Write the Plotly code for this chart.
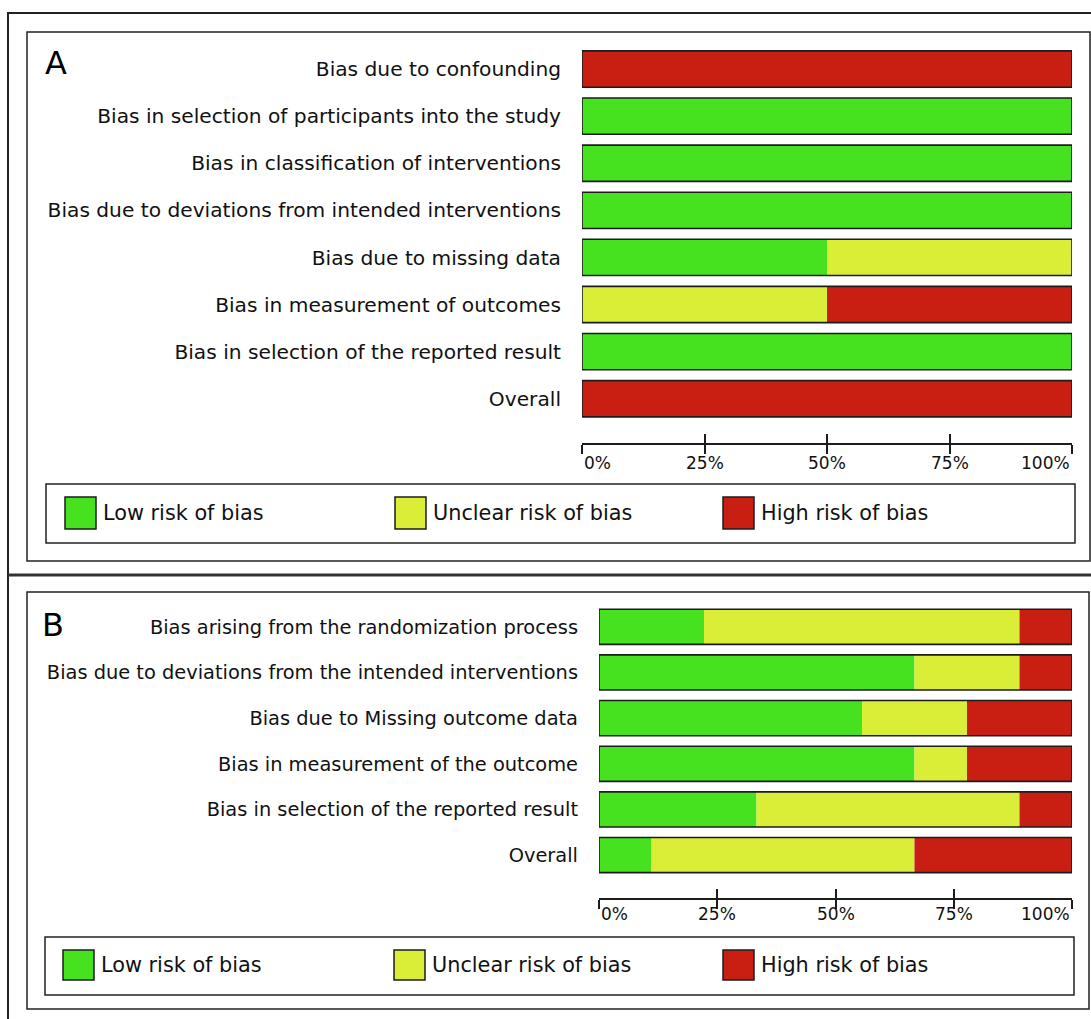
import plotly.graph_objects as go

# ---------------- data ----------------
A_labels = ["Bias due to confounding",
            "Bias in selection of participants into the study",
            "Bias in classification of interventions",
            "Bias due to deviations from intended interventions",
            "Bias due to missing data",
            "Bias in measurement of outcomes",
            "Bias in selection of the reported result",
            "Overall"]
A_low = [0, 100, 100, 100, 50, 0, 100, 0]
A_unclear = [0, 0, 0, 0, 50, 50, 0, 0]
A_high = [100, 0, 0, 0, 0, 50, 0, 100]

B_labels = ["Bias arising from the randomization process",
            "Bias due to deviations from the intended interventions",
            "Bias due to Missing outcome data",
            "Bias in measurement of the outcome",
            "Bias in selection of the reported result",
            "Overall"]
B_low = [22.2, 66.7, 55.6, 66.7, 33.3, 11.1]
B_unclear = [66.7, 22.2, 22.2, 11.1, 55.6, 55.6]
B_high = [11.1, 11.1, 22.2, 22.2, 11.1, 33.3]

tick_vals = [0, 25, 50, 75, 100]
tick_text = ["0%", "25%", "50%", "75%", "100%"]
legend_names = ["Low risk of bias", "Unclear risk of bias", "High risk of bias"]

# ---------------- style ----------------
GREEN = "#46e21f"
YELLOW = "#daee38"
RED = "#c81f12"
DARK = "#1c1c1c"
TXT = "#111111"
FONT = "DejaVu Sans"
W, H = 1091, 1019


def px(v):
    return v / W


def py(v):
    return 1 - v / H


fig = go.Figure()


def add_panel(labels, low, unclear, high, xa, ya, xa_over):
    base_y = low
    base_r = [l + u for l, u in zip(low, unclear)]
    total = [l + u + h for l, u, h in zip(low, unclear, high)]
    for vals, base, col in [(low, None, GREEN), (unclear, base_y, YELLOW), (high, base_r, RED)]:
        fig.add_trace(go.Bar(y=labels, x=vals, base=base, orientation="h",
                             marker=dict(color=col, line=dict(width=0)),
                             xaxis=xa, yaxis=ya, showlegend=False, hoverinfo="skip"))
    fig.add_trace(go.Bar(y=labels, x=total, orientation="h",
                         marker=dict(color="rgba(0,0,0,0)", line=dict(width=1.6, color=DARK)),
                         xaxis=xa_over, yaxis=ya, showlegend=False, hoverinfo="skip"))


add_panel(A_labels, A_low, A_unclear, A_high, "x", "y", "x3")
add_panel(B_labels, B_low, B_unclear, B_high, "x2", "y2", "x4")

# geometry (pixels)
A_dom_x = [px(582), px(1072)]
A_dom_y = [py(443), py(45.5)]
B_dom_x = [px(599), px(1072)]
B_dom_y = [py(898), py(604)]

xcommon = dict(range=[0, 100], tickvals=tick_vals, showgrid=False, zeroline=False,
               fixedrange=True, tickcolor=DARK, tickwidth=1.5, ticklen=9)

fig.update_layout(
    width=W, height=H, autosize=False,
    margin=dict(l=0, r=0, t=0, b=0),
    paper_bgcolor="white", plot_bgcolor="white",
    barmode="overlay", bargap=0.23,
    font=dict(family=FONT, size=19, color=TXT),
    showlegend=False,
    xaxis=dict(domain=A_dom_x, anchor="y", showline=True, linecolor=DARK, linewidth=1.5,
               ticks="outside", showticklabels=False, **xcommon),
    xaxis3=dict(domain=A_dom_x, anchor="y", overlaying="x", side="bottom", showline=False,
                ticks="inside", showticklabels=False, **xcommon),
    yaxis=dict(domain=A_dom_y, anchor="x", type="category", categoryorder="array",
               categoryarray=A_labels, range=[len(A_labels) - 1 + 0.94, -0.5],
               showgrid=False, zeroline=False, showline=False, ticks="",
               ticklabelstandoff=20, tickfont=dict(family=FONT, size=20.2, color=TXT)),
    xaxis2=dict(domain=B_dom_x, anchor="y2", showline=True, linecolor=DARK, linewidth=1.5,
                ticks="outside", showticklabels=False, **xcommon),
    xaxis4=dict(domain=B_dom_x, anchor="y2", overlaying="x2", side="bottom", showline=False,
                ticks="inside", showticklabels=False, **xcommon),
    yaxis2=dict(domain=B_dom_y, anchor="x2", type="category", categoryorder="array",
                categoryarray=B_labels, range=[len(B_labels) - 1 + 0.94, -0.5],
                showgrid=False, zeroline=False, showline=False, ticks="",
                ticklabelstandoff=20, tickfont=dict(family=FONT, size=19.4, color=TXT)),
)

annotations = []
shapes = []

# x tick labels
anchors = ["left", "center", "center", "center", "right"]
for xr, ylab in [("x", 463), ("x2", 914)]:
    for v, t, a in zip(tick_vals, tick_text, anchors):
        annotations.append(dict(x=v, xref=xr, y=py(ylab), yref="paper", text=t,
                                showarrow=False, xanchor=a, yanchor="middle",
                                font=dict(family=FONT, size=17, color=TXT)))

# panel letters
annotations.append(dict(x=px(43), y=py(63), xref="paper", yref="paper", text="A",
                        showarrow=False, xanchor="left", yanchor="middle",
                        font=dict(family=FONT, size=32, color="#000")))
annotations.append(dict(x=px(40), y=py(625), xref="paper", yref="paper", text="B",
                        showarrow=False, xanchor="left", yanchor="middle",
                        font=dict(family=FONT, size=32, color="#000")))

# frames
line_col = "#222222"
shapes.append(dict(type="line", xref="paper", yref="paper", x0=px(7), x1=px(1091),
                   y0=py(13), y1=py(13), line=dict(color=line_col, width=2)))
shapes.append(dict(type="line", xref="paper", yref="paper", x0=px(8), x1=px(8),
                   y0=py(13), y1=py(1019), line=dict(color=line_col, width=2)))
shapes.append(dict(type="line", xref="paper", yref="paper", x0=px(8), x1=px(1091),
                   y0=py(575), y1=py(575), line=dict(color="#333333", width=3)))
shapes.append(dict(type="rect", xref="paper", yref="paper", x0=px(27), x1=px(1090),
                   y0=py(561), y1=py(32), line=dict(color=line_col, width=1.5)))
shapes.append(dict(type="rect", xref="paper", yref="paper", x0=px(27), x1=px(1089),
                   y0=py(1009), y1=py(592), line=dict(color=line_col, width=1.5)))

# legends
legend_cols = [GREEN, YELLOW, RED]
for box, sq_x, sq_y in [((46, 484, 1075, 543), [65, 395, 723], (497, 529)),
                        ((45, 937, 1074, 995), [63, 394, 723], (950, 980))]:
    shapes.append(dict(type="rect", xref="paper", yref="paper", x0=px(box[0]), x1=px(box[2]),
                       y0=py(box[3]), y1=py(box[1]), line=dict(color=line_col, width=1.5)))
    for sx, col, name in zip(sq_x, legend_cols, legend_names):
        shapes.append(dict(type="rect", xref="paper", yref="paper", x0=px(sx), x1=px(sx + 31),
                           y0=py(sq_y[1]), y1=py(sq_y[0]), fillcolor=col,
                           line=dict(color=DARK, width=1.5)))
        annotations.append(dict(x=px(sx + 36), y=py((sq_y[0] + sq_y[1]) / 2), xref="paper",
                                yref="paper", text=name, showarrow=False, xanchor="left",
                                yanchor="middle", font=dict(family=FONT, size=20.8, color=TXT)))

fig.update_layout(annotations=annotations, shapes=shapes)

fig.write_html("out.html")
